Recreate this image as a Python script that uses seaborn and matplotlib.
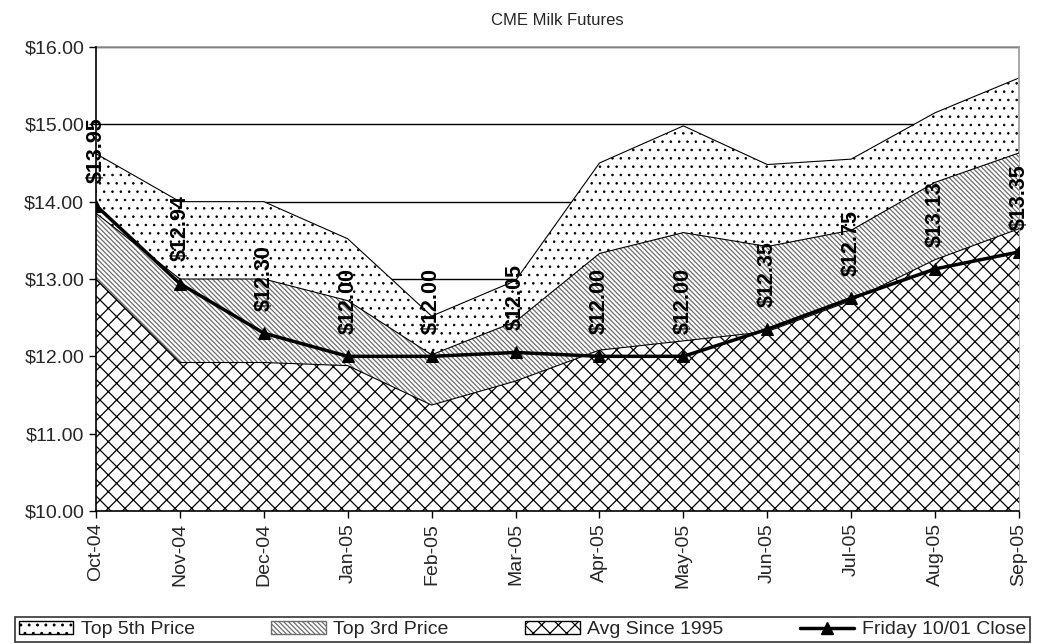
import numpy as np
import pandas as pd
import matplotlib
matplotlib.use("Agg")
import matplotlib.pyplot as plt
import matplotlib.patches as mpatches
import matplotlib.lines as mlines
from matplotlib.ticker import FuncFormatter
import seaborn as sns

# ==========================================
# DATA
# ==========================================
months = ['Oct-04', 'Nov-04', 'Dec-04', 'Jan-05', 'Feb-05', 'Mar-05',
          'Apr-05', 'May-05', 'Jun-05', 'Jul-05', 'Aug-05', 'Sep-05']
top5 = [14.62, 14.00, 14.00, 13.52, 12.52, 12.98, 14.50, 14.98, 14.48, 14.55, 15.15, 15.60]
top3 = [13.85, 13.00, 13.00, 12.72, 12.02, 12.45, 13.33, 13.60, 13.42, 13.63, 14.25, 14.63]
avg_1995 = [13.00, 11.92, 11.92, 11.88, 11.37, 11.68, 12.08, 12.20, 12.32, 12.72, 13.25, 13.65]
friday_close = [13.95, 12.94, 12.30, 12.00, 12.00, 12.05, 12.00, 12.00, 12.35, 12.75, 13.13, 13.35]

df = pd.DataFrame({'pos': np.arange(len(months)), 'month': months,
                   'top5': top5, 'top3': top3, 'avg': avg_1995,
                   'close': friday_close})

# ==========================================
# STYLE
# ==========================================
sns.set_style("white")
plt.rcParams['font.family'] = ['Liberation Sans', 'DejaVu Sans']

fig = plt.figure(figsize=(10.44, 6.44), dpi=100)
ax = fig.add_axes([96 / 1044, 1 - 511 / 644, (1019 - 96) / 1044, (511 - 47) / 644])

base = 10.0
dot_hatch = '..'
diag_hatch = '\\' * 7
cross_hatch = 'xx'
diag_color = '#6e6e6e'

# ==========================================
# AREAS (overlapping, not stacked)
# ==========================================
plt.rcParams['hatch.linewidth'] = 0.6
ax.fill_between(df['pos'], base, df['top5'], facecolor='white',
                edgecolor='black', hatch=dot_hatch, linewidth=0, zorder=2)
ax.plot(df['pos'], df['top5'], color='black', lw=0.8, zorder=2.1)

plt.rcParams['hatch.linewidth'] = 0.9
ax.fill_between(df['pos'], base, df['top3'], facecolor='white',
                edgecolor=diag_color, hatch=diag_hatch, linewidth=0, zorder=3)
ax.plot(df['pos'], df['top3'], color='black', lw=0.8, zorder=3.1)

ax.fill_between(df['pos'], base, df['avg'], facecolor='white',
                edgecolor='black', hatch=cross_hatch, linewidth=0, zorder=4)
ax.plot(df['pos'], df['avg'], color='black', lw=0.8, zorder=4.1)

# ==========================================
# FRIDAY CLOSE LINE
# ==========================================
sns.lineplot(data=df, x='pos', y='close', color='black', lw=2.5,
             marker='^', markersize=9, markeredgecolor='black', ax=ax, zorder=6)

for i, v in enumerate(friday_close):
    ax.annotate(f'${v:.2f}', (i, v), xytext=(0, 16), textcoords='offset points',
                rotation=90, ha='center', va='bottom', fontsize=15.5,
                fontweight='bold', color='black', zorder=7, annotation_clip=False)

# ==========================================
# AXES
# ==========================================
ax.set_xlim(0, len(months) - 1)
ax.set_ylim(10, 16)
ax.set_yticks(np.arange(10, 16.5, 1))
ax.yaxis.set_major_formatter(FuncFormatter(lambda v, p: f'${v:.2f}'))
ax.set_xticks(df['pos'])
ax.set_xticklabels(months, rotation=90)
ax.tick_params(axis='both', labelsize=14, direction='out', length=5,
               width=1, color='black', left=True, bottom=True)
ax.set_xlabel('')
ax.set_ylabel('')

ax.yaxis.grid(True, color='black', lw=1)
ax.set_axisbelow(True)

for side in ['left', 'bottom']:
    ax.spines[side].set_color('black')
    ax.spines[side].set_linewidth(1.2)
for side in ['top', 'right']:
    ax.spines[side].set_color('#9a9a9a')
    ax.spines[side].set_linewidth(1.2)
ax.spines['left'].set_zorder(8)
ax.spines['bottom'].set_zorder(8)

ax.set_title('CME Milk Futures', fontsize=12, pad=16)

# ==========================================
# LEGEND
# ==========================================
handles = [
    mpatches.Patch(facecolor='white', edgecolor='black', hatch=dot_hatch, label='Top 5th Price'),
    mpatches.Patch(facecolor='white', edgecolor=diag_color, hatch=diag_hatch, label='Top 3rd Price'),
    mpatches.Patch(facecolor='white', edgecolor='black', hatch=cross_hatch, label='Avg Since 1995'),
    mlines.Line2D([], [], color='black', lw=2.5, marker='^', markersize=9,
                  label='Friday 10/01 Close'),
]
leg = fig.legend(handles=handles, loc='lower left', ncol=4, mode='expand',
                 bbox_to_anchor=(5 / 1044, -8 / 644, 1035 / 1044, 30 / 644),
                 fontsize=14, frameon=True, fancybox=False, edgecolor='black',
                 handlelength=2.8, handleheight=0.6, borderpad=0.2,
                 handletextpad=0.4, columnspacing=1.0)
leg.get_frame().set_linewidth(1.2)

plt.savefig('out.png', dpi=100)
